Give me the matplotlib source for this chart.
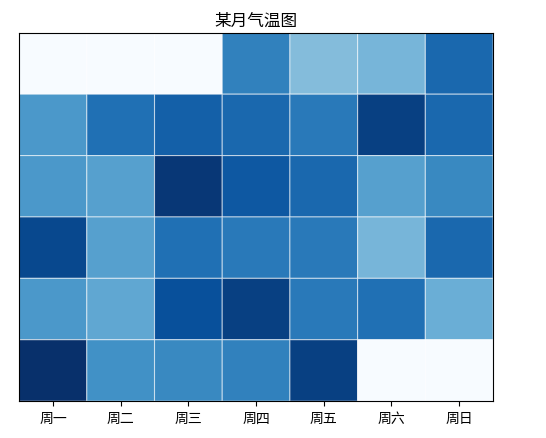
import numpy as np
import matplotlib
matplotlib.use("Agg")
import matplotlib.pyplot as plt

plt.rcParams['font.family'] = ['Noto Sans CJK SC', 'DejaVu Sans']

# ---------------------------------------------------------------------------
# Data: daily temperature for one month, laid out as a calendar (6 weeks x 7 days)
# Empty calendar slots are 0.
# ---------------------------------------------------------------------------
days = ["周一", "周二", "周三", "周四", "周五", "周六", "周日"]
week1 = [0, 0, 0, 22, 14, 15, 25]
week2 = [19, 24, 26, 25, 23, 30, 25]
week3 = [19, 18, 31, 27, 25, 18, 21]
week4 = [29, 18, 24, 23, 23, 15, 25]
week5 = [19, 17, 28, 30, 23, 24, 16]
week6 = [32, 20, 21, 22, 30, 0, 0]

temps = np.array([week1, week2, week3, week4, week5, week6])

fig = plt.figure(figsize=(5.46, 4.39), dpi=100)
ax = fig.add_axes([0.035, 0.084, 0.868, 0.839])

ax.pcolor(temps, cmap="Blues", vmin=0, vmax=temps.max(),
          edgecolors=(1, 1, 1, 0.55), linewidths=0.8)
ax.invert_yaxis()

ax.set_xticks(np.arange(len(days)) + 0.5)
ax.set_xticklabels(days, fontsize=10)
ax.set_yticks([])
ax.set_title("某月气温图", fontsize=12)

fig.savefig("out.png", dpi=100)
